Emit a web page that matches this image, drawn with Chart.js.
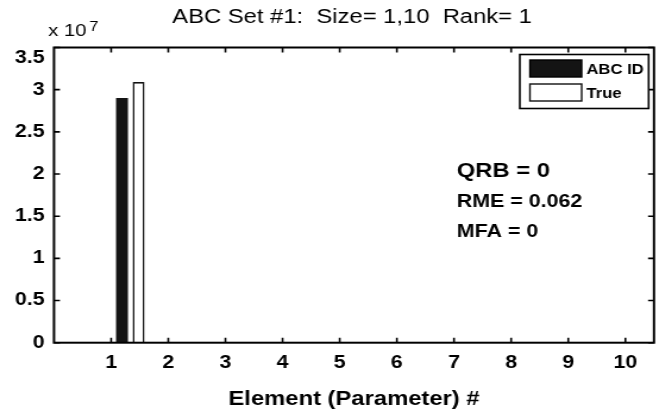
<!DOCTYPE html>
<html>
<head>
<meta charset="utf-8">
<title>ABC Set #1</title>
<script src="https://cdn.jsdelivr.net/npm/chart.js@4/dist/chart.umd.min.js"></script>
<style>
  html, body { margin: 0; padding: 0; background: #fff; overflow: hidden; }
  /* the figure is laid out narrow and then widened, like the exported plot */
  #wrap { width: 554px; height: 419px; transform: scaleX(1.1895); transform-origin: 0 0; }
  canvas { display: block; }
</style>
</head>
<body>
<div id="wrap"><canvas id="chart" width="554" height="419"></canvas></div>
<script>
  const elements = [1, 2, 3, 4, 5, 6, 7, 8, 9, 10];
  const abcIdValues = [2.9e7, 0, 0, 0, 0, 0, 0, 0, 0, 0];
  const trueValues = [3.09e7, 0, 0, 0, 0, 0, 0, 0, 0, 0];
  const yTicks = [0, 0.5e7, 1e7, 1.5e7, 2e7, 2.5e7, 3e7, 3.5e7];
  const statsLines = ["QRB = 0", "RME = 0.062", "MFA = 0"];
  const titleText = "ABC Set #1:  Size= 1,10  Rank= 1";
  const xTitle = "Element (Parameter) #";
  const seriesNames = ["ABC ID", "True"];

  const FONT = "'Liberation Sans', Arial, Helvetica, sans-serif";
  const AXIS_MIN = 0;
  const AXIS_MAX = 10.5;
  const Y_MAX = 3.5e7;

  Chart.defaults.font.family = FONT;
  Chart.defaults.color = "#000";

  function toPoints(values, shift) {
    return elements.map((el, i) => ({ x: el + shift, y: values[i] }));
  }

  function yLabel(v) {
    const text = String(v / 1e7);
    // the top label sits just under the upper edge of the box
    return v === Y_MAX ? ["", text] : text;
  }

  // box round the axes with the ticks pointing inwards on all four sides
  const axesBox = {
    id: "axesBox",
    afterDatasetsDraw(chart) {
      const { ctx, chartArea: a, scales } = chart;
      const len = 5;
      ctx.save();
      ctx.strokeStyle = "#000";
      ctx.lineWidth = 1.6;
      ctx.beginPath();
      elements.forEach((v) => {
        const px = scales.x.getPixelForValue(v);
        ctx.moveTo(px, a.bottom);
        ctx.lineTo(px, a.bottom - len);
        ctx.moveTo(px, a.top);
        ctx.lineTo(px, a.top + len);
      });
      yTicks.forEach((v) => {
        const py = scales.y.getPixelForValue(v);
        ctx.moveTo(a.left, py);
        ctx.lineTo(a.left + len, py);
        ctx.moveTo(a.right, py);
        ctx.lineTo(a.right - len, py);
      });
      ctx.stroke();
      ctx.lineWidth = 2;
      ctx.strokeRect(a.left, a.top, a.right - a.left, a.bottom - a.top);
      ctx.restore();
    },
  };

  const annotations = {
    id: "annotations",
    afterDraw(chart) {
      const { ctx } = chart;
      const data = chart.data.datasets;
      ctx.save();
      ctx.fillStyle = "#000";
      ctx.textBaseline = "alphabetic";

      ctx.font = "20px " + FONT;
      ctx.textAlign = "center";
      ctx.fillText(titleText, 296, 23);

      ctx.textAlign = "left";
      ctx.font = "17px " + FONT;
      ctx.fillText("x 10", 40.5, 36);
      ctx.font = "14px " + FONT;
      ctx.fillText("7", 75, 31);

      ctx.font = "bold 20px " + FONT;
      ctx.fillText(statsLines[0], 384, 177);
      ctx.font = "bold 18px " + FONT;
      ctx.fillText(statsLines[1], 384, 207);
      ctx.fillText(statsLines[2], 384, 237);

      // legend
      const box = { left: 437, top: 54.5, right: 545.3, bottom: 108.5 };
      ctx.fillStyle = "#fff";
      ctx.fillRect(box.left, box.top, box.right - box.left, box.bottom - box.top);
      ctx.strokeStyle = "#000";
      ctx.lineWidth = 1.6;
      ctx.strokeRect(box.left, box.top, box.right - box.left, box.bottom - box.top);
      const rows = [60, 84];
      ctx.font = "bold 14px " + FONT;
      data.forEach((ds, i) => {
        const y = rows[i];
        ctx.fillStyle = ds.backgroundColor;
        ctx.fillRect(445.5, y, 43.5, 17);
        ctx.lineWidth = 1.4;
        ctx.strokeStyle = ds.borderColor;
        ctx.strokeRect(445.5, y, 43.5, 17);
        ctx.fillStyle = "#000";
        ctx.fillText(ds.label, 493, y + 14);
      });
      ctx.restore();
    },
  };

  new Chart(document.getElementById("chart"), {
    type: "bar",
    data: {
      datasets: [
        {
          label: seriesNames[0],
          data: toPoints(abcIdValues, 0.19),
          backgroundColor: "#141414",
          borderColor: "#000",
          borderWidth: 0,
          maxBarThickness: 13,
        },
        {
          label: seriesNames[1],
          data: toPoints(trueValues, 0.48),
          backgroundColor: "#fff",
          borderColor: "#111",
          borderWidth: 1.6,
          maxBarThickness: 11.5,
        },
      ],
    },
    options: {
      responsive: false,
      animation: false,
      devicePixelRatio: 1,
      layout: { padding: { top: 47.5, right: 4.2, left: 0, bottom: 0 } },
      grouped: false,
      plugins: {
        legend: { display: false },
        title: { display: false },
        tooltip: { enabled: false },
      },
      scales: {
        x: {
          type: "linear",
          offset: false,
          min: AXIS_MIN,
          max: AXIS_MAX,
          grid: { display: false, drawTicks: false, offset: false },
          border: { display: false },
          afterBuildTicks(scale) {
            scale.ticks = elements.map((v) => ({ value: v }));
          },
          afterFit(scale) {
            scale.height = 76.3;
          },
          ticks: {
            padding: 10,
            autoSkip: false,
            maxRotation: 0,
            font: { size: 18, weight: "bold" },
            callback: (v) => String(v),
          },
          title: {
            display: true,
            text: xTitle,
            font: { size: 20, weight: "bold" },
            padding: { top: 0, bottom: 7.5 },
          },
        },
        y: {
          min: 0,
          max: Y_MAX,
          grid: { display: false, drawTicks: false },
          border: { display: false },
          afterBuildTicks(scale) {
            scale.ticks = yTicks.map((v) => ({ value: v }));
          },
          afterFit(scale) {
            scale.width = 45.4;
          },
          ticks: {
            padding: 8,
            autoSkip: false,
            font: { size: 18, weight: "bold" },
            callback: yLabel,
          },
        },
      },
    },
    plugins: [axesBox, annotations],
  });
</script>
</body>
</html>
